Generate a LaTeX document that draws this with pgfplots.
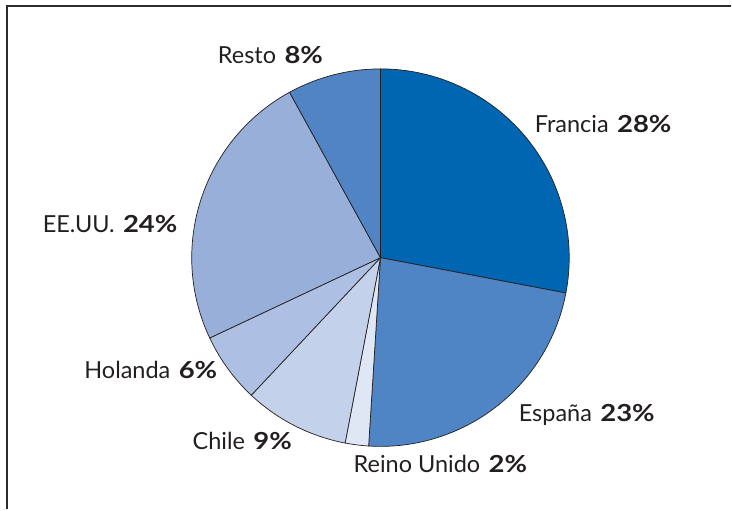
\documentclass[border=0pt]{standalone}
\usepackage{pgfplots}
\pgfplotsset{compat=1.18}
\usepackage{pgfplotstable}
\usepackage{fontspec}
\setmainfont{Lato}
\definecolor{txt}{HTML}{231F20}
\definecolor{edge}{HTML}{231F20}
\definecolor{frame}{HTML}{2B2B2B}
\definecolor{c0}{HTML}{0066B2}
\definecolor{c1}{HTML}{4F85C5}
\definecolor{c2}{HTML}{DFE6F4}
\definecolor{c3}{HTML}{C4D1EA}
\definecolor{c4}{HTML}{ADC0E3}
\definecolor{c5}{HTML}{98AFDA}
\definecolor{c6}{HTML}{5184C5}
\pgfplotstableread[col sep=comma]{
name,value,lx,ly
Francia,28,535.3,377.3
España,23,519.3,88.3
Reino Unido,2,354,36.7
Chile,9,192.7,60
Holanda,6,84.3,131
EE.UU.,24,42.7,277
Resto,8,218,446.7
}\piedata
\begin{document}
\begin{tikzpicture}
\begin{axis}[x=1pt,y=1pt,xmin=0,xmax=732,ymin=0,ymax=510,hide axis,clip=false,scale only axis]
\addplot[draw=none,forget plot] coordinates {(0,0) (732,510)};
\pgfplotsextra{
  \draw[frame,line width=2pt] (axis cs:7,504) -- (axis cs:732,504);
  \draw[frame,line width=2pt] (axis cs:7,505) -- (axis cs:7,0);
  \pgfplotstablegetrowsof{\piedata}
  \pgfmathtruncatemacro{\N}{\pgfplotsretval-1}
  \gdef\cum{0}
  \foreach \i in {0,...,\N}{
    \pgfplotstablegetelem{\i}{value}\of\piedata \let\v=\pgfplotsretval
    \pgfmathsetmacro{\a}{90-3.6*\cum}
    \pgfmathsetmacro{\b}{90-3.6*(\cum+\v)}
    \filldraw[fill=c\i,draw=edge,line width=0.7pt,line join=round]
      (axis cs:381,252) -- (axis cs:{381+189*cos(\a)},{252+189*sin(\a)})
      arc[start angle=\a,end angle=\b,radius=189pt] -- cycle;
    \pgfmathsetmacro{\newcum}{\cum+\v}
    \xdef\cum{\newcum}
  }
  \foreach \i in {0,...,\N}{
    \pgfplotstablegetelem{\i}{value}\of\piedata \let\v=\pgfplotsretval
    \pgfplotstablegetelem{\i}{name}\of\piedata \let\nm=\pgfplotsretval
    \pgfplotstablegetelem{\i}{lx}\of\piedata \let\lx=\pgfplotsretval
    \pgfplotstablegetelem{\i}{ly}\of\piedata \let\ly=\pgfplotsretval
    \node[anchor=base west,inner sep=0pt,text=txt,font=\fontsize{23.5}{28}\selectfont]
      at (axis cs:\lx,\ly) {\nm\hspace{0.36em}\scalebox{1.17}[1]{\textbf{\v\%}}};
  }
}
\end{axis}
\end{tikzpicture}
\end{document}
